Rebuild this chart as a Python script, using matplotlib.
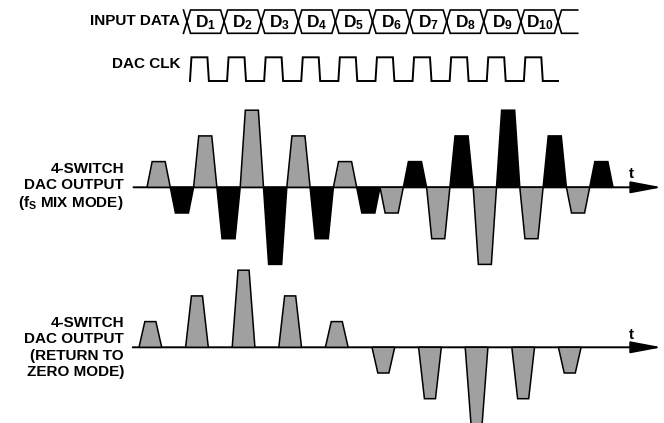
import matplotlib
matplotlib.use("Agg")
import matplotlib.pyplot as plt
from matplotlib.patches import Polygon

plt.rcParams.update({
    'font.family': 'Liberation Sans',
    'font.weight': 'bold',
    'mathtext.fontset': 'custom',
    'mathtext.bf': 'Liberation Sans:bold',
    'mathtext.rm': 'Liberation Sans:bold',
    'mathtext.default': 'bf',
})

# data
samples = [1, 2, 3, 2, 1, -1, -2, -3, -2, -1]      # D1..D10 amplitude
data_labels = [f"$D_{{{i}}}$" for i in range(1, 11)]
n_clk = 10

W, H = 664, 423
GRAY = '#a0a0a0'
fig = plt.figure(figsize=(W / 100, H / 100), dpi=100)


def px_axes(x0, x1, yt, yb):
    ax = fig.add_axes([x0 / W, 1 - yb / H, (x1 - x0) / W, (yb - yt) / H])
    ax.set_axis_off()
    return ax


def wave_axes(xo, yo, xs, ys, box):
    x0, x1, yt, yb = box
    ax = px_axes(*box)
    ax.set_xlim((x0 - xo) / xs, (x1 - xo) / xs)
    ax.set_ylim((yo - yb) / ys, (yo - yt) / ys)
    return ax


def pulse(ax, start, width, ramp, val, color):
    pts = [(start, 0), (start + ramp, val), (start + width - ramp, val),
           (start + width, 0)]
    ax.add_patch(Polygon(pts, closed=True, facecolor=color, edgecolor='k',
                         lw=1.1, joinstyle='miter', clip_on=False, zorder=3))


def time_axis(ax, x0, x1):
    ax.annotate('', xy=(x1, 0), xytext=(x0, 0),
                arrowprops=dict(arrowstyle='-|>,head_length=1.9,head_width=0.36',
                                lw=1.4, color='k', shrinkA=0, shrinkB=0),
                annotation_clip=False, zorder=2)


def ftext(x, y, s, **kw):
    fig.text(x / W, 1 - y / H, s, fontsize=11, fontweight='bold', **kw)


SLOT, AMP = 23.3, 25.7

# ---- fs mix mode
ax1 = wave_axes(147, 187.3, SLOT, AMP, (120, 664, 100, 275))
time_axis(ax1, -0.58, 22.1)
for i, v in enumerate(samples):
    pulse(ax1, 2 * i, 1.0, 0.22, v, GRAY)
    pulse(ax1, 2 * i + 1, 1.0, 0.22, -v, 'k')

# ---- return to zero mode
ax2 = wave_axes(139, 347.3, SLOT, AMP, (120, 664, 260, 423))
time_axis(ax2, -0.27, 22.44)
for i, v in enumerate(samples):
    pulse(ax2, 2 * i, 0.975, 0.25, v, GRAY)

# ---- input data bus & clock
P = 37.1
ax0 = px_axes(150, 600, 0, 95)
ax0.set_xlim((150 - 187) / P, (600 - 187) / P)
ax0.set_ylim(95, 0)
top, bot = 10, 33.3
mid = (top + bot) / 2
tap = 0.095
for k in range(len(data_labels)):
    xs = [k, k + tap, k + 1 - tap, k + 1, k + 1 - tap, k + tap, k]
    ys = [mid, top, top, mid, bot, bot, mid]
    ax0.plot(xs, ys, color='k', lw=1.2, solid_joinstyle='miter')
    ax0.text(k + 0.5, mid + 0.8, data_labels[k], ha='center', va='center',
             fontsize=12.5)
n = len(data_labels)
ax0.plot([-tap, 0, -tap], [top, mid, bot], color='k', lw=1.2)
ax0.plot([n + 0.53, n + tap, n, n + tap, n + 0.53],
         [top, top, mid, bot, bot], color='k', lw=1.2)

hi, lo = 57.3, 81
cx, cy = [], []
for k in range(n_clk):
    r = k + 0.08
    f = r + 0.47
    cx += [r, r + 0.04, f, f + 0.04]
    cy += [lo, hi, hi, lo]
cx.append(10.0)
cy.append(lo)
ax0.plot(cx, cy, color='k', lw=1.4, solid_joinstyle='miter')

# ---- labels
ftext(180, 21, 'INPUT DATA', ha='right', va='center')
ftext(180, 64, 'DAC CLK', ha='right', va='center')
ftext(124, 187, '4-SWITCH\nDAC OUTPUT\n($f_S$ MIX MODE)', ha='right',
      va='center', linespacing=1.2)
ftext(124, 347.5, '4-SWITCH\nDAC OUTPUT\n(RETURN TO\nZERO MODE)', ha='right',
      va='center', linespacing=1.2)
ftext(631, 174, 't', ha='center', va='center')
ftext(631, 335, 't', ha='center', va='center')

fig.savefig('out.png', dpi=100)
